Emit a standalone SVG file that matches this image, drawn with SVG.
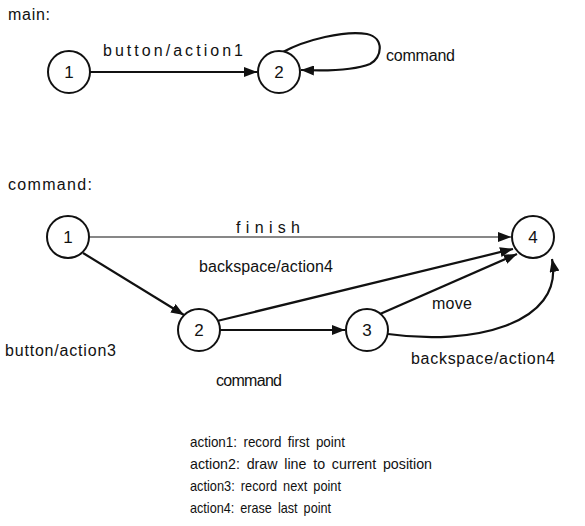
<svg xmlns="http://www.w3.org/2000/svg" width="585" height="526" viewBox="0 0 585 526">
  <style>
    text { font-family: "Liberation Sans", Arial, sans-serif; font-size: 16px; fill: #111; }
    .node circle { fill: #fff; stroke: #111; stroke-width: 2; }
    .node text { text-anchor: middle; font-size: 17px; }
    .edge { fill: none; stroke: #111; stroke-width: 2.2; }
    .thin { stroke-width: 1.1; }
    .legend text { font-size: 15px; }
  </style>
  <defs>
    <marker id="arrow" viewBox="0 0 13 10" refX="13" refY="5" markerWidth="13" markerHeight="10" markerUnits="userSpaceOnUse" orient="auto">
      <path d="M0,0 L13,5 L0,10 z" fill="#111"/>
    </marker>
  </defs>

  <rect width="585" height="526" fill="#fff"/>

  <!-- machine "main" -->
  <text x="8" y="20" textLength="42" lengthAdjust="spacing">main:</text>
  <g id="connectors-main">
    <path class="edge" d="M90,72 L257,72" marker-end="url(#arrow)"/>
    <path class="edge" d="M283,52 C305,40 345,30 367,34 C385,38 382,58 370,64 C355,70 325,71 301,70" marker-end="url(#arrow)"/>
  </g>
  <text x="103" y="56" textLength="140" lengthAdjust="spacing">button/action1</text>
  <text x="386" y="61" textLength="69" lengthAdjust="spacing">command</text>
  <g id="main-1" class="node"><circle cx="69" cy="72" r="21"/><text x="69" y="78">1</text></g>
  <g id="main-2" class="node"><circle cx="279" cy="72" r="21"/><text x="279" y="78">2</text></g>

  <!-- machine "command" -->
  <text x="8" y="190" textLength="84" lengthAdjust="spacing">command:</text>
  <g id="connectors-command">
    <path class="edge thin" d="M89,237 L511,237" marker-end="url(#arrow)"/>
    <path class="edge" d="M83,253 L184,315" marker-end="url(#arrow)"/>
    <path class="edge" d="M217,321 L513,249" marker-end="url(#arrow)"/>
    <path class="edge" d="M220,330 L345,330" marker-end="url(#arrow)"/>
    <path class="edge" d="M380,314 L517,254" marker-end="url(#arrow)"/>
    <path class="edge" d="M388,334 C470,346 565,325 552,259" marker-end="url(#arrow)"/>
  </g>
  <text x="236" y="233" textLength="64" lengthAdjust="spacing">finish</text>
  <text x="199" y="272" textLength="134" lengthAdjust="spacing">backspace/action4</text>
  <text x="432" y="309" textLength="40" lengthAdjust="spacing">move</text>
  <text x="5" y="356" textLength="111" lengthAdjust="spacing">button/action3</text>
  <text x="216" y="386" textLength="66" lengthAdjust="spacing">command</text>
  <text x="411" y="364" textLength="144" lengthAdjust="spacing">backspace/action4</text>
  <g id="cmd-1" class="node"><circle cx="68" cy="237" r="21"/><text x="68" y="243">1</text></g>
  <g id="cmd-2" class="node"><circle cx="199" cy="330" r="21"/><text x="199" y="336">2</text></g>
  <g id="cmd-3" class="node"><circle cx="367" cy="330" r="21"/><text x="367" y="336">3</text></g>
  <g id="cmd-4" class="node"><circle cx="533" cy="237" r="21"/><text x="533" y="243">4</text></g>

  <!-- action legend -->
  <g id="legend" class="legend" style="word-spacing:3px">
    <text x="190" y="447" textLength="155" lengthAdjust="spacingAndGlyphs">action1: record first point</text>
    <text x="190" y="469" textLength="242" lengthAdjust="spacingAndGlyphs">action2: draw line to current position</text>
    <text x="190" y="491" textLength="151" lengthAdjust="spacingAndGlyphs">action3: record next point</text>
    <text x="190" y="513" textLength="141" lengthAdjust="spacingAndGlyphs">action4: erase last point</text>
  </g>
</svg>
